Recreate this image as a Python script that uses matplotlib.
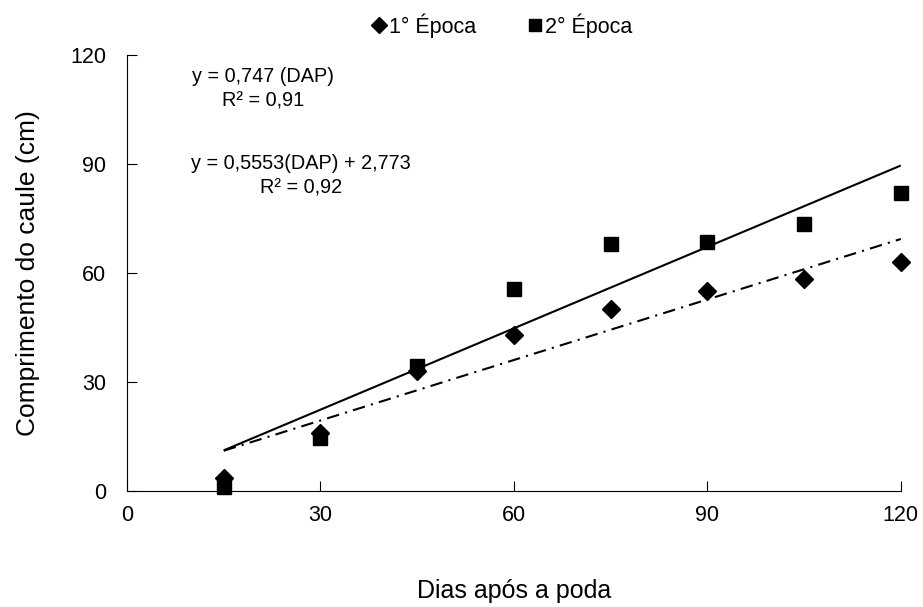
import numpy as np
import matplotlib.pyplot as plt

plt.rcParams['font.family'] = ['Liberation Sans', 'DejaVu Sans']

# Data
dias = [15, 30, 45, 60, 75, 90, 105, 120]
epoca1 = [3.5, 16, 33, 43, 50, 55, 58.5, 63]
epoca2 = [1, 14.5, 34.5, 55.5, 68, 68.5, 73.5, 82]

# regression lines
x_fit = np.array([15, 120])
y_fit2 = 0.747 * x_fit
y_fit1 = 0.5553 * x_fit + 2.773

fig = plt.figure(figsize=(9.23, 6.07), dpi=100)
ax = fig.add_axes([0.1376, 0.191, 0.8384, 0.718])

ax.plot(x_fit, y_fit2, color='black', lw=1.5, solid_capstyle='butt')
ax.plot(x_fit, y_fit1, color='black', lw=1.5, linestyle=(0, (6, 3, 1, 3)))

ax.plot(dias, epoca1, 'D', color='black', ms=9, label='1° Época', clip_on=False)
ax.plot(dias, epoca2, 's', color='black', ms=10, label='2° Época', clip_on=False)

ax.set_xlim(0, 120)
ax.set_ylim(0, 120)
ax.set_xticks([0, 30, 60, 90, 120])
ax.set_yticks([0, 30, 60, 90, 120])
ax.tick_params(direction='in', length=7, labelsize=15.5)
ax.tick_params(axis='y', pad=15)
ax.tick_params(axis='x', pad=10)
ax.spines['top'].set_visible(False)
ax.spines['right'].set_visible(False)

ax.set_xlabel('Dias após a poda', fontsize=18, labelpad=38)
ax.set_ylabel('Comprimento do caule (cm)', fontsize=19, labelpad=22)

# equations
ax.text(21.1, 112.6, 'y = 0,747 (DAP)', fontsize=14.3, ha='center', va='baseline')
ax.text(21.1, 106.0, 'R² = 0,91', fontsize=14.3, ha='center', va='baseline')
ax.text(27.0, 88.6, 'y = 0,5553(DAP) + 2,773', fontsize=14.3, ha='center', va='baseline')
ax.text(27.0, 82.0, 'R² = 0,92', fontsize=14.3, ha='center', va='baseline')

leg = ax.legend(loc='center', bbox_to_anchor=(0.485, 1.068), ncol=2, frameon=False,
                fontsize=15.5, handlelength=0.6, handletextpad=0.2, columnspacing=2.4,
                markerscale=0.9)

fig.savefig('out.png', dpi=100)
